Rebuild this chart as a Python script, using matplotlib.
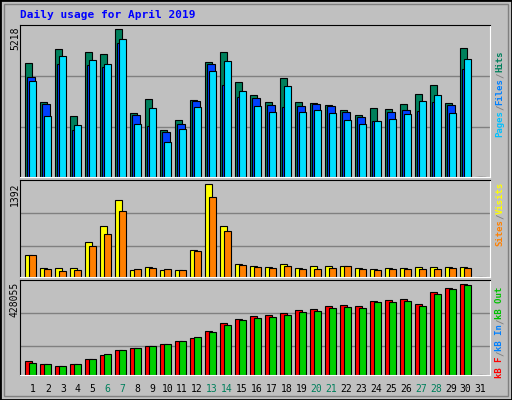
import numpy as np
import matplotlib.pyplot as plt
from matplotlib.patches import Rectangle

days = np.arange(1, 32)
hits = [4014, 2633, 4510, 2137, 4403, 4332, 5218, 2243, 2739, 1641, 1995, 2703, 4061, 4403, 3341,
        2880, 2633, 3482, 2633, 2597, 2526, 2349, 2172, 2420, 2385, 2562, 2916, 3235, 2597, 4545, 0]
files = [3518, 2562, 3978, 1641, 3943, 3872, 4722, 2172, 1783, 1570, 1853, 2668, 3978, 3235, 2810,
         2774, 2526, 2455, 2491, 2562, 2491, 2278, 2101, 1960, 2278, 2349, 2314, 2633, 2526, 3801, 0]
pages = [3376, 2137, 4262, 1818, 4120, 3978, 4864, 1853, 2420, 1251, 1676, 2455, 3730, 4085, 3022,
         2491, 2278, 3199, 2278, 2349, 2243, 1995, 1853, 1960, 2030, 2208, 2668, 2880, 2243, 4155, 0]
visits = [322, 141, 141, 141, 518, 759, 1151, 111, 156, 111, 111, 397, 1392, 759, 201,
          171, 156, 201, 141, 171, 171, 171, 141, 126, 141, 141, 156, 156, 156, 156, 0]
sites = [322, 126, 95, 111, 457, 638, 985, 126, 141, 126, 111, 382, 1196, 683, 186,
         156, 141, 171, 126, 126, 141, 171, 126, 111, 126, 126, 126, 126, 141, 141, 0]
kb_f = [65856, 51744, 42336, 51744, 75264, 94080, 117600, 127008, 136416, 145824, 159936, 174048,
        206976, 244608, 263424, 277536, 282240, 291648, 305760, 310464, 324576, 329280, 324576,
        348096, 352800, 357504, 333984, 390432, 409248, 428055, 0]
kb_out = [56448, 51744, 42336, 51744, 75264, 98784, 117600, 127008, 136416, 145824, 159936, 178752,
          202272, 235200, 258720, 268128, 272832, 282240, 296352, 301056, 315168, 319872, 315168,
          343392, 343392, 348096, 324576, 381024, 404544, 423360, 0]
weekends = [6, 7, 13, 14, 20, 21, 27, 28]

BG = '#C0C0C0'
fig = plt.figure(figsize=(5.12, 4.0), dpi=100, facecolor=BG)
W, H = 512, 400
mono = 'DejaVu Sans Mono'

# frame
fig.patches.append(Rectangle((0, 0), 1, 1, transform=fig.transFigure, fill=False,
                             ec='black', lw=2))
fig.patches.append(Rectangle((4 / W, 4 / H), 1 - 8 / W, 1 - 8 / H, transform=fig.transFigure,
                             fill=False, ec='#808080', lw=1))


def panel(y0, y1, ymax_px, vmax):
    ax = fig.add_axes([20 / W, 1 - y1 / H, 470 / W, (y1 - y0) / H])
    ax.set_facecolor(BG)
    ax.set_xlim(0, 470)
    ax.set_ylim(0, vmax * (y1 - y0) / (y1 - ymax_px))
    ax.set_xticks([])
    ax.set_yticks([])
    for s in ['left', 'top']:
        ax.spines[s].set_color('black')
    for s in ['right', 'bottom']:
        ax.spines[s].set_color('white')
    return ax


def grid(ax, y0, y1, ys):
    lo, hi = ax.get_ylim()
    for yp in ys:
        ax.axhline(hi * (y1 - yp) / (y1 - y0), color='#808080', lw=1, zorder=0)


x = (days - 1) * 15.0
kw = dict(align='edge', edgecolor='black', linewidth=0.8, zorder=2)

ax1 = panel(25, 177, 29, 5218)
grid(ax1, 25, 177, [76, 127])
ax1.bar(x + 5, hits, 7, color='#00805C', **kw)
ax1.bar(x + 7, files, 8, color='#0040FF', **kw)
ax1.bar(x + 9, pages, 7, color='#00E0FF', **kw)

ax2 = panel(180, 277, 184, 1392)
grid(ax2, 180, 277, [213, 246])
ax2.bar(x + 5, visits, 7, color='#FFFF00', **kw)
ax2.bar(x + 9, sites, 7, color='#FF8000', **kw)

ax3 = panel(280, 375, 284, 428055)
grid(ax3, 280, 375, [313, 346])
ax3.bar(x + 5, kb_f, 7, color='#FF0000', **kw)
ax3.bar(x + 9, kb_out, 7, color='#00D000', **kw)

for d in days:
    c = '#00805C' if d in weekends else 'black'
    fig.text((33 + (d - 1) * 14.92) / W, 1 - 389 / H, str(d), color=c, fontsize=7,
             family=mono, ha='center', va='center')

fig.text(20 / W, 1 - 15 / H, 'Daily usage for April 2019', color='#0000FF', fontsize=8,
         family=mono, weight='bold', ha='left', va='center')

for txt, yp in [('5218', 27), ('1392', 182), ('428055', 282)]:
    fig.text(15 / W, 1 - yp / H, txt, rotation=90, fontsize=7, family=mono,
             ha='center', va='top')

renderer = fig.canvas.get_renderer()


def side(parts, ybottom):
    yp = ybottom
    for txt, col in parts:
        t = fig.text(500 / W, 1 - yp / H, txt, rotation=90, fontsize=6.5, family=mono,
                     weight='bold', color=col, ha='center', va='bottom')
        yp -= t.get_window_extent(renderer).height


side([('Pages', '#00C0FF'), ('/', '#808080'), ('Files', '#0080FF'),
      ('/', '#808080'), ('Hits', '#00805C')], 137)
side([('Sites', '#FF8000'), ('/', '#808080'), ('Visits', '#FFFF00')], 246)
side([('kB F', '#FF0000'), ('/', '#808080'), ('kB In', '#0080FF'),
      ('/', '#808080'), ('kB Out', '#00C000')], 378)

fig.savefig('out.png', dpi=100, facecolor=BG)
